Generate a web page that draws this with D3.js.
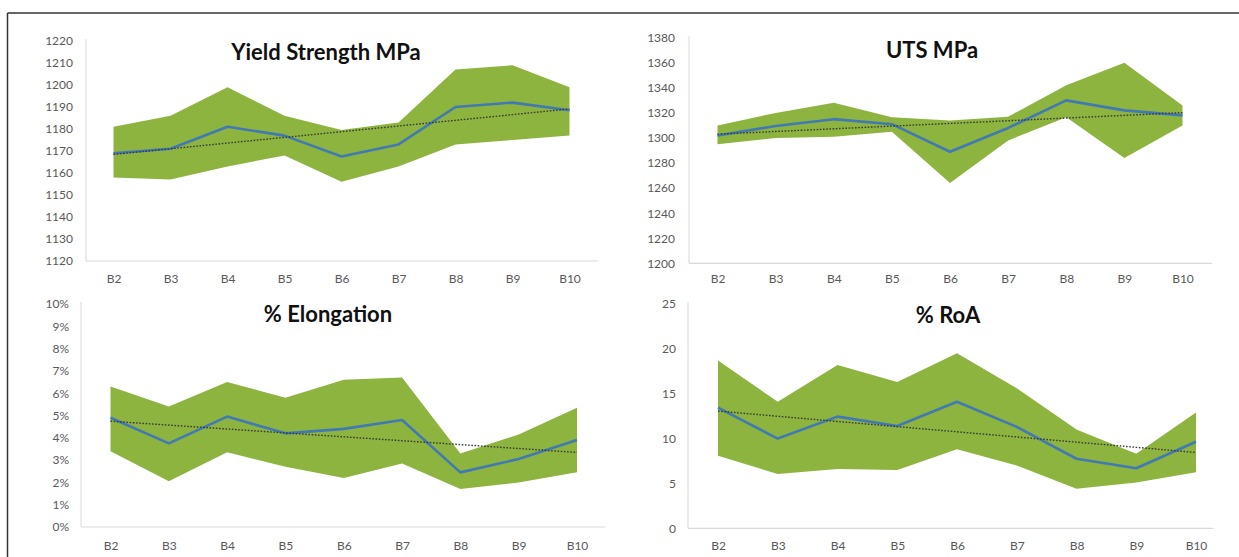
<!DOCTYPE html>
<html>
<head>
<meta charset="utf-8">
<script src="https://cdn.jsdelivr.net/npm/d3@7"></script>
<style>
  html, body { margin: 0; padding: 0; background: #fff; }
  svg { display: block; }
  .tick-label { font-family: Lato, "Open Sans", sans-serif; font-size: 12px; fill: #595959; }
  .title { font-family: Lato, "Open Sans", sans-serif; font-size: 22px; font-weight: bold; fill: #111; }
</style>
</head>
<body>
<svg id="chart" width="1239" height="557"></svg>
<script>
// ---------- DATA ----------
const categories = ["B2", "B3", "B4", "B5", "B6", "B7", "B8", "B9", "B10"];

const yieldUpper = [1181, 1186, 1199, 1186, 1179.5, 1183, 1207, 1209, 1199];
const yieldLower = [1158, 1157, 1163, 1168, 1156, 1163, 1173, 1175, 1177];
const yieldMean  = [1169, 1171, 1181, 1177, 1167.5, 1173, 1190, 1192, 1188.5];
const yieldTicks = [1120, 1130, 1140, 1150, 1160, 1170, 1180, 1190, 1200, 1210, 1220];

const utsUpper = [1310, 1320, 1328, 1316.5, 1314, 1317, 1342, 1360, 1326];
const utsLower = [1295, 1300, 1301, 1305, 1264, 1298, 1316.5, 1284, 1310];
const utsMean  = [1302, 1309.5, 1315, 1311, 1289, 1308, 1330, 1322, 1318];
const utsTicks = [1200, 1220, 1240, 1260, 1280, 1300, 1320, 1340, 1360, 1380];

const elongUpper = [6.3, 5.4, 6.5, 5.8, 6.6, 6.7, 3.3, 4.15, 5.35];
const elongLower = [3.4, 2.05, 3.35, 2.7, 2.2, 2.85, 1.7, 2.0, 2.45];
const elongMean  = [4.9, 3.75, 4.95, 4.2, 4.4, 4.8, 2.45, 3.05, 3.9];
const elongTicks = [0, 1, 2, 3, 4, 5, 6, 7, 8, 9, 10];

const roaUpper = [18.7, 14.1, 18.2, 16.3, 19.5, 15.6, 11.0, 8.3, 12.9];
const roaLower = [8.1, 6.05, 6.6, 6.5, 8.8, 7.0, 4.4, 5.1, 6.25];
const roaMean  = [13.45, 10.0, 12.45, 11.4, 14.1, 11.3, 7.75, 6.7, 9.65];
const roaTicks = [0, 5, 10, 15, 20, 25];

const titles = ["Yield Strength MPa", "UTS MPa", "% Elongation", "% RoA"];

// ---------- LAYOUT ----------
const panels = [
  { title: titles[0], upper: yieldUpper, lower: yieldLower, mean: yieldMean, ticks: yieldTicks, fmt: d => d,
    axisX0: 86, axisX1: 598, catX0: 113.5, catX1: 569.5, yTop: 41, yBot: 261, labelRight: 73, xLabelY: 283, titleX: 326, titleY: 60 },
  { title: titles[1], upper: utsUpper, lower: utsLower, mean: utsMean, ticks: utsTicks, fmt: d => d,
    axisX0: 689, axisX1: 1212, catX0: 717.5, catX1: 1182.5, yTop: 37.7, yBot: 263.3, labelRight: 675, xLabelY: 283.5, titleX: 932, titleY: 58 },
  { title: titles[2], upper: elongUpper, lower: elongLower, mean: elongMean, ticks: elongTicks, fmt: d => d + "%",
    axisX0: 81, axisX1: 605, catX0: 110.5, catX1: 577, yTop: 304, yBot: 527, labelRight: 69, xLabelY: 550, titleX: 328, titleY: 322 },
  { title: titles[3], upper: roaUpper, lower: roaLower, mean: roaMean, ticks: roaTicks, fmt: d => d,
    axisX0: 688, axisX1: 1213, catX0: 718, catX1: 1196, yTop: 304, yBot: 528.3, labelRight: 676, xLabelY: 550, titleX: 948, titleY: 323 }
];

const svg = d3.select("#chart");

// outer frame (top and left edges)
svg.append("line").attr("x1", 7.5).attr("x2", 1239).attr("y1", 13).attr("y2", 13)
  .attr("stroke", "#333").attr("stroke-width", 1.5);
svg.append("line").attr("x1", 7.5).attr("x2", 7.5).attr("y1", 13).attr("y2", 557)
  .attr("stroke", "#333").attr("stroke-width", 1.5);

function linearFit(vals) {
  const n = vals.length;
  const xs = d3.range(n);
  const mx = d3.mean(xs), my = d3.mean(vals);
  let sxy = 0, sxx = 0;
  xs.forEach((x, i) => { sxy += (x - mx) * (vals[i] - my); sxx += (x - mx) * (x - mx); });
  const slope = sxy / sxx, intercept = my - slope * mx;
  return xs.map(x => intercept + slope * x);
}

panels.forEach(p => {
  const g = svg.append("g");
  const x = d3.scalePoint().domain(categories).range([p.catX0, p.catX1]);
  const y = d3.scaleLinear().domain([p.ticks[0], p.ticks[p.ticks.length - 1]]).range([p.yBot, p.yTop]);

  const rows = categories.map((c, i) => ({ c, lo: p.lower[i], hi: p.upper[i], m: p.mean[i] }));
  const trend = linearFit(p.mean);

  // y axis line
  g.append("line").attr("x1", p.axisX0).attr("x2", p.axisX0).attr("y1", p.yTop - 2).attr("y2", p.yBot)
    .attr("stroke", "#d9d9d9").attr("stroke-width", 1);
  // x axis line
  g.append("line").attr("x1", p.axisX0).attr("x2", p.axisX1).attr("y1", p.yBot).attr("y2", p.yBot)
    .attr("stroke", "#d9d9d9").attr("stroke-width", 1.2);

  // y tick labels via axis
  const yAxis = d3.axisLeft(y).tickValues(p.ticks).tickFormat(p.fmt).tickSize(0).tickPadding(0);
  const ya = g.append("g").attr("transform", `translate(${p.labelRight},0)`).call(yAxis);
  ya.select(".domain").remove();
  ya.selectAll("text").attr("class", "tick-label").attr("font-family", null).attr("font-size", null).attr("fill", null);

  // x tick labels via axis
  const xAxis = d3.axisBottom(x).tickSize(0).tickPadding(0);
  const xa = g.append("g").attr("transform", `translate(0,${p.xLabelY - 9})`).call(xAxis);
  xa.select(".domain").remove();
  xa.selectAll("text").attr("class", "tick-label").attr("font-family", null).attr("font-size", null).attr("fill", null);

  // band
  const area = d3.area().x(d => x(d.c)).y0(d => y(d.lo)).y1(d => y(d.hi));
  g.append("path").datum(rows).attr("d", area).attr("fill", "#8db43e");

  // mean line
  const line = d3.line().x(d => x(d.c)).y(d => y(d.m));
  g.append("path").datum(rows).attr("d", line).attr("fill", "none")
    .attr("stroke", "#4179b5").attr("stroke-width", 2.6).attr("stroke-linejoin", "round");

  // trend line (linear fit of the mean)
  const tline = d3.line().x((d, i) => x(categories[i])).y(d => y(d));
  g.append("path").datum(trend).attr("d", tline).attr("fill", "none")
    .attr("stroke", "#3a3a3a").attr("stroke-width", 1.4).attr("stroke-dasharray", "1.6,1.6");

  // title
  g.append("text").attr("class", "title").attr("x", p.titleX).attr("y", p.titleY)
    .attr("text-anchor", "middle").text(p.title);
});
</script>
</body>
</html>
